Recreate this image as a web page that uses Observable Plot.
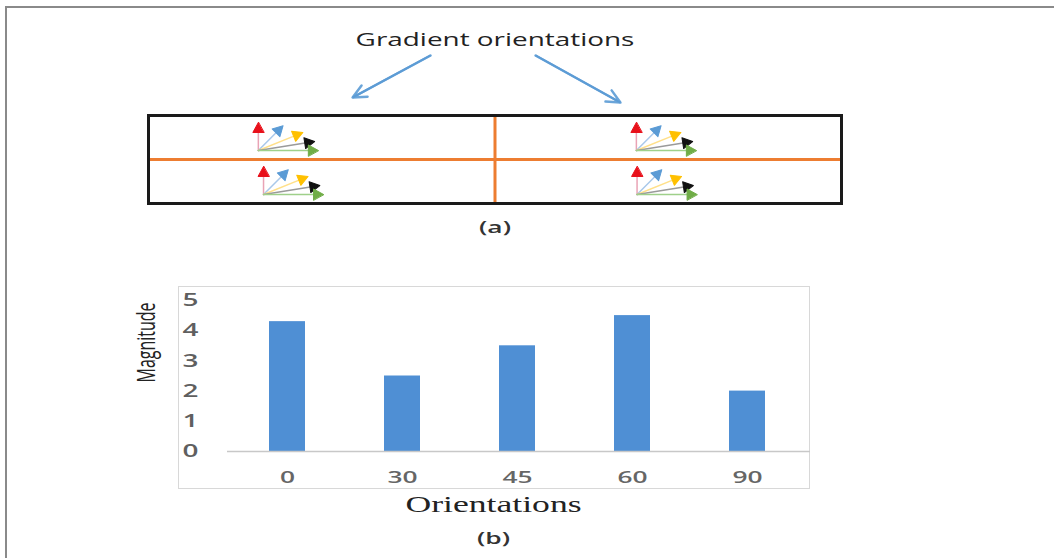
<!DOCTYPE html>
<html><head><meta charset="utf-8">
<script src="https://cdn.jsdelivr.net/npm/d3@7"></script>
<script src="https://cdn.jsdelivr.net/npm/@observablehq/plot@0.6"></script>
<style>
html,body{margin:0;padding:0;background:#fff;}
#page{position:relative;width:1054px;height:558px;overflow:hidden;background:#fff;font-family:"Open Sans",sans-serif;}
#outer{position:absolute;left:5px;top:6px;right:-10px;bottom:-10px;border-top:2px solid #8a8a8a;border-left:2px solid #8a8a8a;}
#chartbox{position:absolute;left:178px;top:286px;width:632px;height:203px;border:1px solid #d8d8d8;box-sizing:border-box;}
#diagram{position:absolute;left:0;top:0;}
#bars{position:absolute;left:0;top:260px;}
</style></head>
<body><div id="page"><div id="outer"></div><div id="chartbox"></div><div id="diagram"></div><div id="bars"></div></div>
<script>
// ---- bar chart data (b) ----
const orientations = ["0", "30", "45", "60", "90"];
const magnitudes = [4.3, 2.5, 3.5, 4.5, 2.0];
const yTicks = [0, 1, 2, 3, 4, 5];

// ---- diagram data (a) ----
const cellOriginX = [0.317, 1.408, 0.332, 1.41];   // glyph origin per cell (grid units)
const cellOriginY = [0.795, 0.795, 1.795, 1.795];
const glyphAngles = [90, 45, 22, 9, 0];              // degrees, counter-clockwise from +x
const glyphLengths = [28, 35, 48, 57, 60];           // px
const glyphColors = ["#e8101a", "#5b9bd5", "#ffc000", "#111111", "#70ad47"];
const shaftColors = ["#e9a3b5", "#a9c8ea", "#ffe08a", "#9a9a9a", "#9fd08a"];
const pointerX1 = [0.814, 1.117];
const pointerY1 = [-1.364, -1.364];
const pointerX2 = [0.589, 1.362];
const pointerY2 = [-0.409, -0.295];

const S = 1.55; // horizontal stretch of the reference's text

const barData = orientations.map((o, i) => ({orientation: o, magnitude: magnitudes[i]}));
const glyphRows = cellOriginX.flatMap((cx, c) => glyphAngles.map((a, i) => ({
  x: cx, y: cellOriginY[c], rotate: 90 - a, len: glyphLengths[i], color: glyphColors[i], shaft: shaftColors[i]
})));
const pointers = pointerX1.map((x1, i) => ({x1, y1: pointerY1[i], x2: pointerX2[i], y2: pointerY2[i]}));

const shaftShape = {draw(ctx, l) { ctx.moveTo(0, 0); ctx.lineTo(0, -(l - 5)); }};
const headShape = {draw(ctx, l) { ctx.moveTo(0, -l); ctx.lineTo(-5.5, -l + 10); ctx.lineTo(5.5, -l + 10); ctx.closePath(); }};
const pointerHead = {draw(ctx, l) { ctx.moveTo(0, -l); ctx.lineTo(-5, -l + 10); ctx.lineTo(5, -l + 10); ctx.closePath(); }};

function stretch(svg, s) {
  svg.querySelectorAll("text").forEach(t => {
    const tr = t.getAttribute("transform") || "";
    if (tr.includes("rotate")) t.setAttribute("transform", tr + ` scale(1,${s})`);
    else if (tr) t.setAttribute("transform", tr + ` scale(${s},1)`);
    else {
      const x = +t.getAttribute("x") || 0;
      t.setAttribute("transform", `translate(${x},0) scale(${s},1) translate(${-x},0)`);
    }
  });
  return svg;
}

const diagram = Plot.plot({
  width: 1054, height: 240,
  marginLeft: 148, marginRight: 213, marginTop: 115, marginBottom: 37,
  x: {domain: [0, 2], axis: null},
  y: {domain: [0, 2], reverse: true, axis: null},
  length: {domain: [0, 100], range: [0, 100]},
  style: {background: "transparent", overflow: "visible", fontFamily: "Open Sans"},
  marks: [
    Plot.ruleX([1], {stroke: "#ed7d31", strokeWidth: 3}),
    Plot.ruleY([1], {stroke: "#ed7d31", strokeWidth: 3}),
    Plot.frame({stroke: "#1a1a1a", strokeWidth: 3}),
    Plot.vector(glyphRows, {x: "x", y: "y", rotate: "rotate", length: "len", anchor: "start", shape: shaftShape, stroke: "shaft", strokeWidth: 1.5}),
    Plot.vector(glyphRows, {x: "x", y: "y", rotate: "rotate", length: "len", anchor: "start", shape: headShape, fill: "color", stroke: "color", strokeWidth: 1}),
    Plot.link(pointers, {x1: "x1", y1: "y1", x2: "x2", y2: "y2", stroke: "#6a9fd6", strokeWidth: 2}),
    Plot.arrow(pointers, {x1: "x1", y1: "y1", x2: "x2", y2: "y2", stroke: "#5b9bd5", strokeWidth: 2.5, headLength: 9, headAngle: 50, strokeOpacity: 0.9}),
    Plot.text(["Gradient orientations"], {frameAnchor: "top", lineAnchor: "middle", dy: -75, fontSize: 18, fill: "#222"}),
    Plot.text(["(a)"], {frameAnchor: "bottom", lineAnchor: "middle", dy: 24, fontSize: 17, fontWeight: 600, fill: "#333"})
  ]
});
document.getElementById("diagram").append(stretch(diagram, S));

const bars = Plot.plot({
  width: 1054, height: 298,
  marginLeft: 228, marginRight: 248, marginTop: 40, marginBottom: 107,
  x: {domain: orientations, paddingInner: 0.69, paddingOuter: 0.345, axis: null},
  y: {domain: [0, 5], axis: null},
  style: {background: "transparent", overflow: "visible", fontFamily: "Open Sans"},
  marks: [
    Plot.barY(barData, {x: "orientation", y: "magnitude", fill: "#4f8fd4"}),
    Plot.ruleY([0], {stroke: "#c8c8c8", strokeWidth: 1.5, insetLeft: -1, insetRight: -4}),
    Plot.axisY(yTicks, {anchor: "left", tickSize: 0, tickPadding: 30, fontSize: 18, fontWeight: 600, fill: "#5f5f5f", label: null, tickFormat: d => String(d)}),
    Plot.axisX({anchor: "bottom", tickSize: 0, tickPadding: 19, fontSize: 17, fontWeight: 600, fill: "#666", label: null}),
    Plot.text(["Orientations"], {frameAnchor: "bottom", lineAnchor: "middle", dx: -24, dy: 53, fontFamily: "Liberation Serif", fontSize: 23, fill: "#222"}),
    Plot.text(["(b)"], {frameAnchor: "bottom", lineAnchor: "middle", dx: -24, dy: 87, fontSize: 17, fontWeight: 600, fill: "#333"}),
    Plot.text(["Magnitude"], {frameAnchor: "left", lineAnchor: "middle", rotate: -90, dx: -81, dy: 6.5, fontSize: 16, fill: "#222"})
  ]
});
document.getElementById("bars").append(stretch(bars, S));
</script>
</body></html>
